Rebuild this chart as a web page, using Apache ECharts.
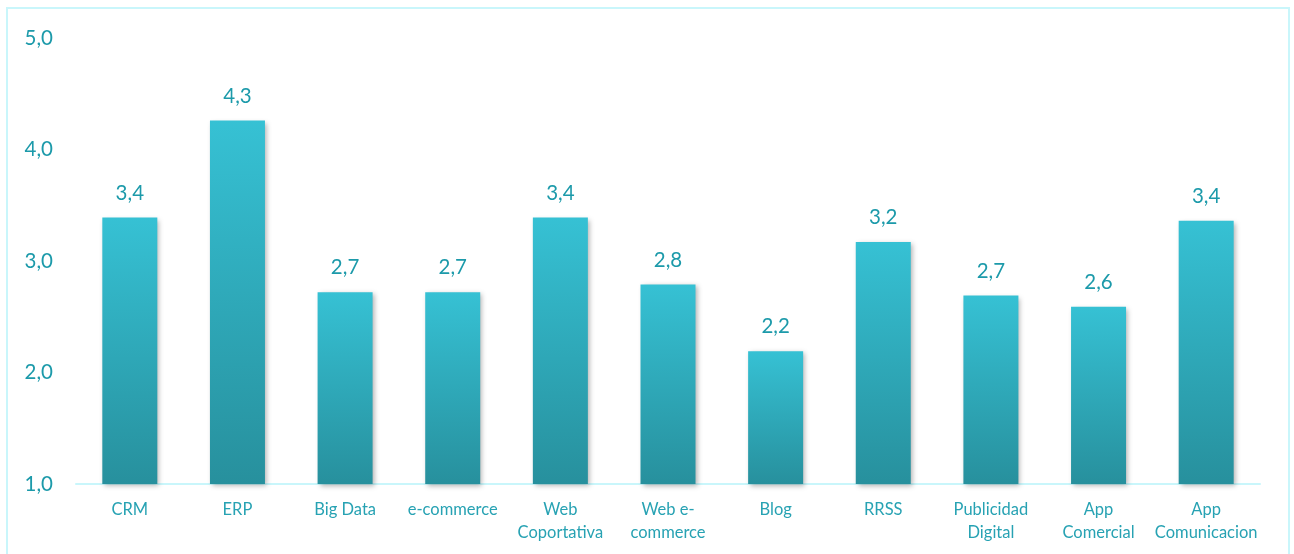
<!DOCTYPE html>
<html><head><meta charset="utf-8">
<script src="https://cdn.jsdelivr.net/npm/echarts@6/dist/echarts.min.js"></script>
<style>html,body{margin:0;padding:0;background:#fff}#c{width:1294px;height:554px}</style>
</head><body><div id="c"></div>
<script>
const categories = ['CRM','ERP','Big Data','e-commerce','Web\nCoportativa','Web e-\ncommerce','Blog','RRSS','Publicidad\nDigital','App\nComercial','App\nComunicacion'];
const values = [3.39, 4.26, 2.72, 2.72, 3.39, 2.79, 2.19, 3.17, 2.69, 2.59, 3.36];
const yTicks = [1, 2, 3, 4, 5];
const fmt = v => v.toFixed(1).replace('.', ',');
const chart = echarts.init(document.getElementById('c'));
chart.setOption({
  animation: false,
  textStyle: { fontFamily: 'Lato, "Open Sans", sans-serif' },
  graphic: [{ type: 'rect', shape: { x: 7, y: 8, width: 1282, height: 560 }, style: { fill: 'none', stroke: '#c9f6fb', lineWidth: 2 }, silent: true }],
  grid: { left: 76, right: 34, top: 38, bottom: 70 },
  xAxis: {
    type: 'category', data: categories,
    axisLine: { lineStyle: { color: '#c9f6fb', width: 2 } },
    axisTick: { show: false },
    axisLabel: { color: '#27a2b3', fontSize: 16.5, margin: 14, lineHeight: 23, interval: 0 }
  },
  yAxis: {
    type: 'value', min: yTicks[0], max: yTicks[yTicks.length - 1], interval: 1,
    splitLine: { show: false }, axisLine: { show: false }, axisTick: { show: false },
    axisLabel: { color: '#1c9aaa', fontSize: 20.5, margin: 23, formatter: v => fmt(v) }
  },
  series: [{
    type: 'bar', data: values, barWidth: 55,
    itemStyle: {
      color: new echarts.graphic.LinearGradient(0, 0, 0, 1, [{ offset: 0, color: '#36c1d4' }, { offset: 1, color: '#27909d' }]),
      shadowColor: 'rgba(0,0,0,0.3)', shadowBlur: 5, shadowOffsetX: 2, shadowOffsetY: 2
    },
    label: { show: true, position: 'top', distance: 14, color: '#1c9aaa', fontSize: 20.5, formatter: p => fmt(p.value) }
  }]
});
</script></body></html>
